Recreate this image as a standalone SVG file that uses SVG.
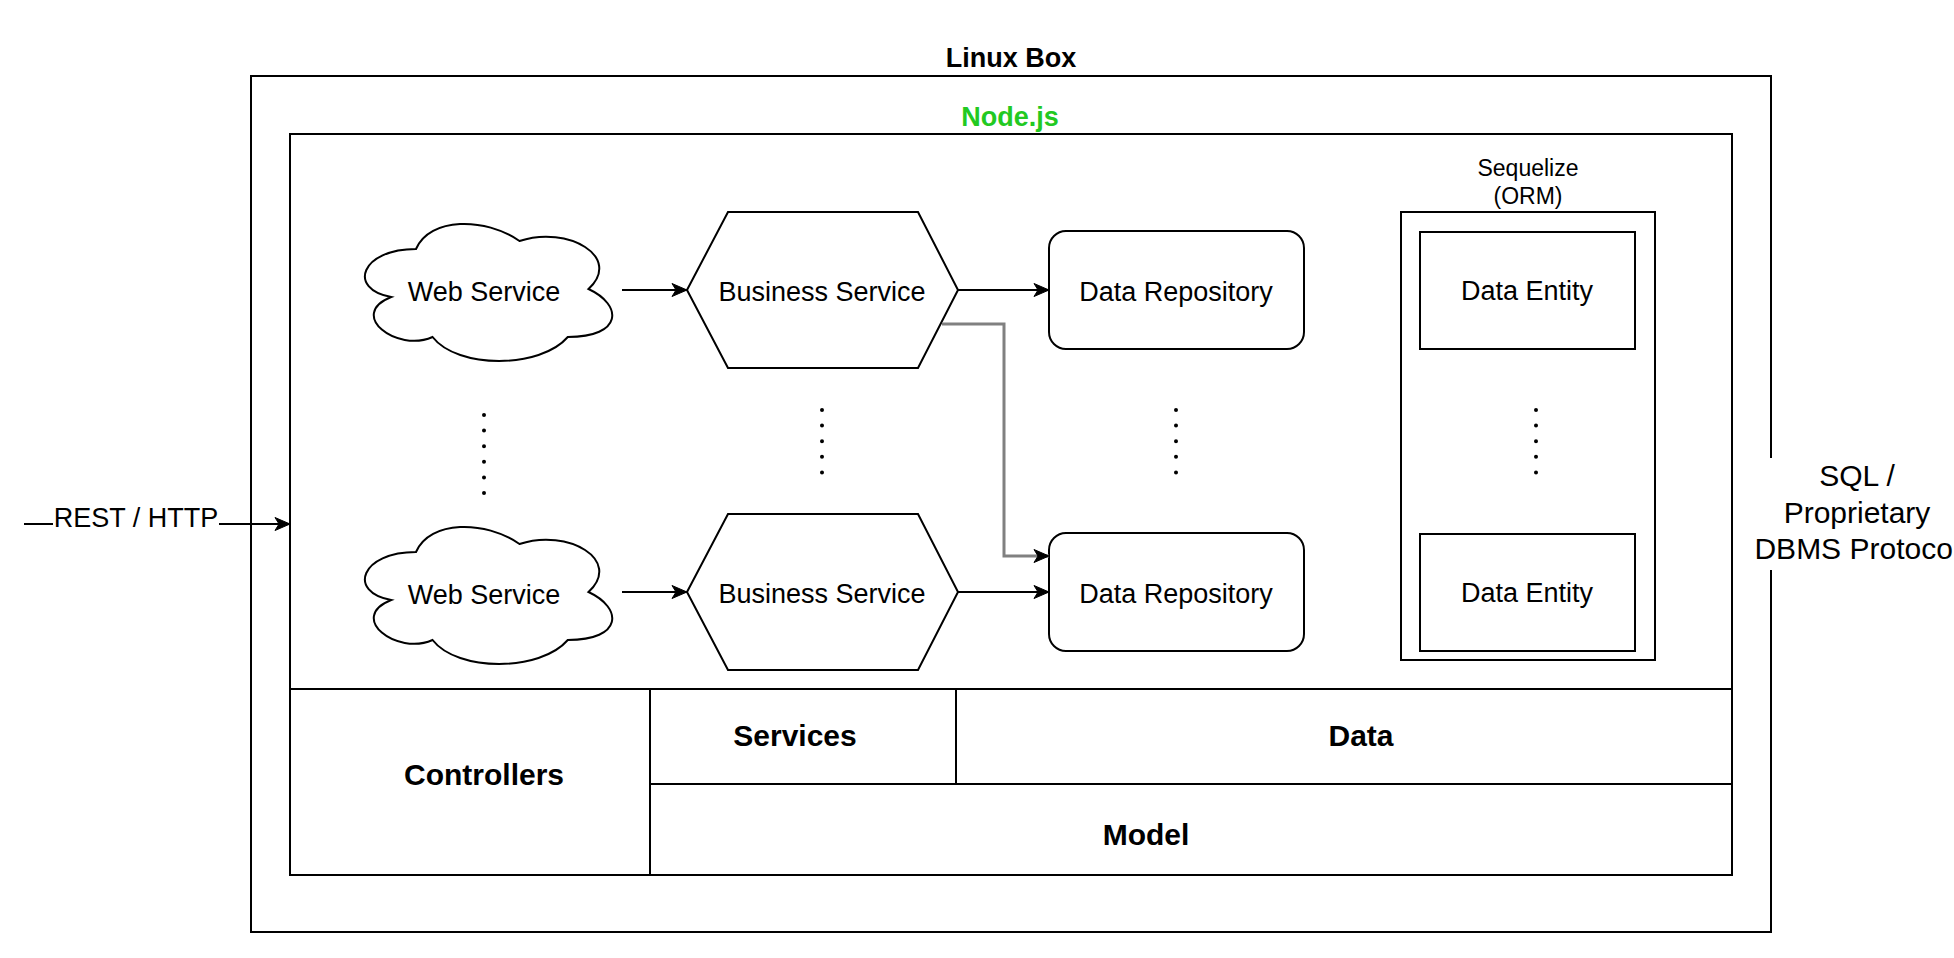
<svg xmlns="http://www.w3.org/2000/svg" xmlns:xlink="http://www.w3.org/1999/xlink" width="1954" height="958" viewBox="0 0 1954 958">
<style>
  .box { fill: none; stroke: #000; stroke-width: 2; }
  .shape { fill: #fff; stroke: #000; stroke-width: 2; }
  .t { font-family: "Liberation Sans", Arial, Helvetica, sans-serif; font-size: 27px; fill: #000; text-anchor: middle; }
  .b { font-weight: bold; }
  .big { font-size: 30px; }
  .small { font-size: 23px; }
  .edge { fill: none; stroke: #000; stroke-width: 2; marker-end: url(#arrow); }
  .edge-gray { fill: none; stroke: #808080; stroke-width: 3; marker-end: url(#arrow); }
  .dots { fill: none; stroke: #000; stroke-width: 4; stroke-linecap: round; stroke-dasharray: 0 15.6; }
  .bg { fill: #fff; stroke: none; }
</style>
<defs>
  <marker id="arrow" markerUnits="userSpaceOnUse" markerWidth="18" markerHeight="16" viewBox="-16 -8 17 16" refX="0" refY="0" orient="auto">
    <path d="M0,0 L-15,-6.5 L-11,0 L-15,6.5 Z" fill="#000" stroke="#000" stroke-width="1"/>
  </marker>
  <path id="cloud" d="M416,249 C360.8,249 347,289 391.16,297 C347,314.6 396.68,353 432.56,337 C457.4,369 540.2,369 567.8,337 C623,337 623,305 588.5,289 C623,257 567.8,225 519.5,241 C485,217 429.8,217 416,249 Z"/>
  <polygon id="hex" points="687,290 728,212 918,212 958,290 918,368 728,368"/>
</defs>

<rect width="1954" height="958" fill="#fff"/>

<g id="linux-box">
  <rect class="box" x="251" y="76" width="1520" height="856"/>
  <text class="t b" x="1011" y="67">Linux Box</text>
</g>

<g id="nodejs">
  <rect class="box" x="290" y="134" width="1442" height="741"/>
  <text class="t b" x="1010" y="126" style="fill:#22c922">Node.js</text>
</g>

<g id="layers">
  <line class="box" x1="290" y1="689" x2="1732" y2="689"/>
  <line class="box" x1="650" y1="689" x2="650" y2="875"/>
  <line class="box" x1="956" y1="689" x2="956" y2="784"/>
  <line class="box" x1="650" y1="784" x2="1732" y2="784"/>
</g>
<g id="controllers"><text class="t b big" x="484" y="785">Controllers</text></g>
<g id="services"><text class="t b big" x="795" y="746">Services</text></g>
<g id="data"><text class="t b big" x="1361" y="746">Data</text></g>
<g id="model"><text class="t b big" x="1146" y="845">Model</text></g>

<g id="web-service-1">
  <use xlink:href="#cloud" class="shape"/>
  <text class="t" x="484" y="301">Web Service</text>
</g>
<g id="web-service-2">
  <use xlink:href="#cloud" class="shape" transform="translate(0,303)"/>
  <text class="t" x="484" y="604">Web Service</text>
</g>

<g id="business-service-1">
  <use xlink:href="#hex" class="shape"/>
  <text class="t" x="822" y="301">Business Service</text>
</g>
<g id="business-service-2">
  <use xlink:href="#hex" class="shape" transform="translate(0,302)"/>
  <text class="t" x="822" y="603">Business Service</text>
</g>

<g id="data-repository-1">
  <rect class="shape" x="1049" y="231" width="255" height="118" rx="17" ry="17"/>
  <text class="t" x="1176" y="301">Data Repository</text>
</g>
<g id="data-repository-2">
  <rect class="shape" x="1049" y="533" width="255" height="118" rx="17" ry="17"/>
  <text class="t" x="1176" y="603">Data Repository</text>
</g>

<g id="sequelize">
  <rect class="shape" x="1401" y="212" width="254" height="448"/>
  <text class="t small" x="1528" y="176">Sequelize</text>
  <text class="t small" x="1528" y="204">(ORM)</text>
</g>
<g id="data-entity-1">
  <rect class="shape" x="1420" y="232" width="215" height="117"/>
  <text class="t" x="1527" y="300">Data Entity</text>
</g>
<g id="data-entity-2">
  <rect class="shape" x="1420" y="534" width="215" height="117"/>
  <text class="t" x="1527" y="602">Data Entity</text>
</g>

<g id="ellipses">
  <line class="dots" x1="484" y1="415" x2="484" y2="494"/>
  <line class="dots" x1="822" y1="410" x2="822" y2="473"/>
  <line class="dots" x1="1176" y1="410" x2="1176" y2="473"/>
  <line class="dots" x1="1536" y1="410" x2="1536" y2="473"/>
</g>

<g id="connectors">
  <path class="edge" d="M24,524 L290,524"/>
  <path class="edge" d="M622,290 L687,290"/>
  <path class="edge" d="M622,592 L687,592"/>
  <path class="edge" d="M958,290 L1049,290"/>
  <path class="edge" d="M958,592 L1049,592"/>
  <path class="edge-gray" d="M942,324 L1004,324 L1004,556 L1049,556"/>
</g>

<g id="rest-label">
  <rect class="bg" x="53" y="504" width="166" height="30"/>
  <text class="t" x="136" y="527">REST / HTTP</text>
</g>

<g id="sql-label">
  <rect class="bg" x="1748" y="458" width="206" height="112"/>
  <text class="t big" x="1857" y="486">SQL /</text>
  <text class="t big" x="1857" y="523">Proprietary</text>
  <text class="t big" x="1857" y="559">DBMS Protocol</text>
</g>
</svg>
